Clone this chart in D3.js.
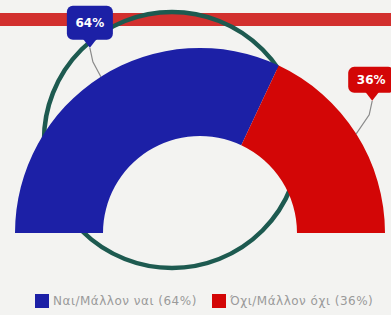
<!DOCTYPE html>
<html>
<head>
<meta charset="utf-8">
<script src="https://cdn.jsdelivr.net/npm/d3@7"></script>
<style>
  html, body { margin: 0; padding: 0; background: #f3f3f1; }
  svg { display: block; }
</style>
</head>
<body>
<script>
const categories = ['Ναι/Μάλλον ναι', 'Όχι/Μάλλον όχι']
const values = [64, 36]
const colors = ['#1c20a6', '#d30606']

const width = 391
const height = 315
const cx = 200
const cy = 233
const outerR = 185
const innerR = 97

const svg = d3.select('body').append('svg')
  .attr('width', width)
  .attr('height', height)

svg.append('rect')
  .attr('width', width).attr('height', height)
  .style('fill', '#f3f3f1')

// red band across the top
svg.append('rect')
  .attr('x', 0).attr('y', 13)
  .attr('width', width).attr('height', 13)
  .style('fill', '#d2302e')

// decorative ring behind the gauge
svg.append('circle')
  .attr('cx', 172).attr('cy', 140).attr('r', 128)
  .style('fill', 'none')
  .style('stroke', '#1d5a50')
  .style('stroke-width', 4.5)

const data = categories.map((c, i) => ({ name: c, value: values[i], color: colors[i] }))

const pie = d3.pie()
  .sort(null)
  .value(d => d.value)
  .startAngle(-Math.PI / 2)
  .endAngle(Math.PI / 2)

const arc = d3.arc().innerRadius(innerR).outerRadius(outerR)
const edge = d3.arc().innerRadius(outerR).outerRadius(outerR)

const g = svg.append('g').attr('transform', `translate(${cx}, ${cy})`)
const arcs = pie(data)

g.selectAll('.slice')
  .data(arcs)
  .enter().append('path')
  .attr('class', 'slice')
  .attr('d', arc)
  .style('fill', d => d.data.color)

// callout labels
const callouts = [
  { dx: -11, dy: -29, w: 46, h: 34, bx: -23 },
  { dx: 16, dy: -33, w: 46, h: 26, bx: -24 }
]

arcs.forEach((d, i) => {
  const [ex, ey] = edge.centroid(d)
  const c = callouts[i]
  const tx = ex + c.dx
  const ty = ey + c.dy
  const lbl = g.append('g')

  lbl.append('path')
    .attr('d', `M${ex},${ey} L${tx + (i === 0 ? 3 : -3)},${ty + 14} L${tx},${ty}`)
    .style('fill', 'none')
    .style('stroke', '#8a8a8a')
    .style('stroke-width', 1.2)

  const x0 = tx + c.bx
  const y0 = ty - 8 - c.h
  lbl.append('rect')
    .attr('x', x0).attr('y', y0)
    .attr('width', c.w).attr('height', c.h)
    .attr('rx', 6)
    .style('fill', d.data.color)

  lbl.append('path')
    .attr('d', `M${tx - 7},${ty - 9} L${tx},${ty} L${tx + 7},${ty - 9} Z`)
    .style('fill', d.data.color)

  lbl.append('text')
    .attr('x', x0 + c.w / 2)
    .attr('y', y0 + c.h / 2)
    .attr('dy', '0.35em')
    .style('text-anchor', 'middle')
    .style('fill', '#ffffff')
    .style('font-family', 'DejaVu Sans')
    .style('font-weight', 'bold')
    .style('font-size', '12px')
    .text(d.data.value + '%')
})

// legend
const legendX = [35, 212]
const legend = svg.selectAll('.legend')
  .data(data)
  .enter().append('g')
  .attr('class', 'legend')
  .attr('transform', (d, i) => `translate(${legendX[i]}, 294)`)

legend.append('rect')
  .attr('width', 14).attr('height', 14)
  .style('fill', d => d.color)

legend.append('text')
  .attr('x', 18)
  .attr('y', 7)
  .attr('dy', '0.35em')
  .style('fill', '#9a9a9a')
  .style('font-family', 'DejaVu Sans')
  .style('font-size', '12px')
  .style('letter-spacing', '0.5px')
  .text(d => `${d.name} (${d.value}%)`)
</script>
</body>
</html>
